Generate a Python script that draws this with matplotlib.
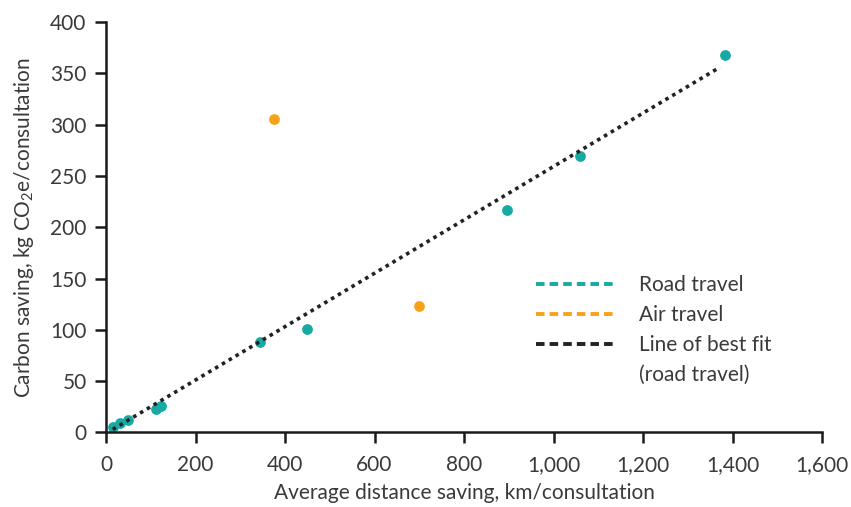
import numpy as np
import matplotlib
matplotlib.use('Agg')
import matplotlib.pyplot as plt
from matplotlib.lines import Line2D

plt.rcParams['font.family'] = ['Lato', 'DejaVu Sans']

# values
road_x = [15, 31, 50, 112, 122, 345, 450, 895, 1058, 1382]
road_y = [5, 9, 12, 23, 26, 88, 101, 217, 269, 368]
air_x = [375, 700]
air_y = [305, 123]
fit_x = [15, 1372]   # ends of the best-fit line (road travel)
fit_y = [3, 356]

teal = '#17a9a3'
orange = '#f7a21b'
text_col = '#3a3a3a'
fs = 15

fig = plt.figure(figsize=(8.51, 5.07), dpi=100)
ax = fig.add_axes([0.1246, 0.147, 0.8414, 0.8096])

ax.plot(fit_x, fit_y, color='#222222', linestyle=(0, (1, 1.2)), linewidth=2.6, zorder=3)
ax.scatter(road_x, road_y, s=60, color=teal, zorder=2, linewidths=0)
ax.scatter(air_x, air_y, s=60, color=orange, zorder=2, linewidths=0)

ax.set_xlim(0, 1600)
ax.set_ylim(0, 400)
ax.set_xticks(np.arange(0, 1601, 200))
ax.set_xticklabels(['0', '200', '400', '600', '800', '1,000', '1,200', '1,400', '1,600'])
ax.set_yticks(np.arange(0, 401, 50))

for s in ['top', 'right']:
    ax.spines[s].set_visible(False)
for s in ['left', 'bottom']:
    ax.spines[s].set_linewidth(1.8)
    ax.spines[s].set_color('#1a1a1a')
ax.tick_params(direction='out', length=8, width=1.8, color='#1a1a1a',
               labelsize=fs, labelcolor=text_col)
ax.tick_params(axis='x', pad=8)
ax.tick_params(axis='y', pad=6)

ax.set_xlabel('Average distance saving, km/consultation', fontsize=fs, color=text_col, labelpad=6)
ax.set_ylabel(r'Carbon saving, kg CO$_\mathregular{2}$e/consultation', fontsize=fs, color=text_col, labelpad=10)

# legend: fourth row holds the second line of the fit label, with no handle
dash = (0, (2.2, 1.3))
handles = [Line2D([], [], color=teal, linestyle=dash, linewidth=2.8),
           Line2D([], [], color=orange, linestyle=dash, linewidth=2.8),
           Line2D([], [], color='#222222', linestyle=dash, linewidth=2.8),
           Line2D([], [], color='none')]
labels = ['Road travel', 'Air travel', 'Line of best fit', '(road travel)']
leg = ax.legend(handles, labels, loc='upper left', bbox_to_anchor=(0.6, 0.383),
                frameon=False, fontsize=fs, handlelength=3.75, handletextpad=1.2,
                labelspacing=0.47, borderaxespad=0, borderpad=0)
for t in leg.get_texts():
    t.set_color(text_col)

fig.savefig('out.png', dpi=100)
